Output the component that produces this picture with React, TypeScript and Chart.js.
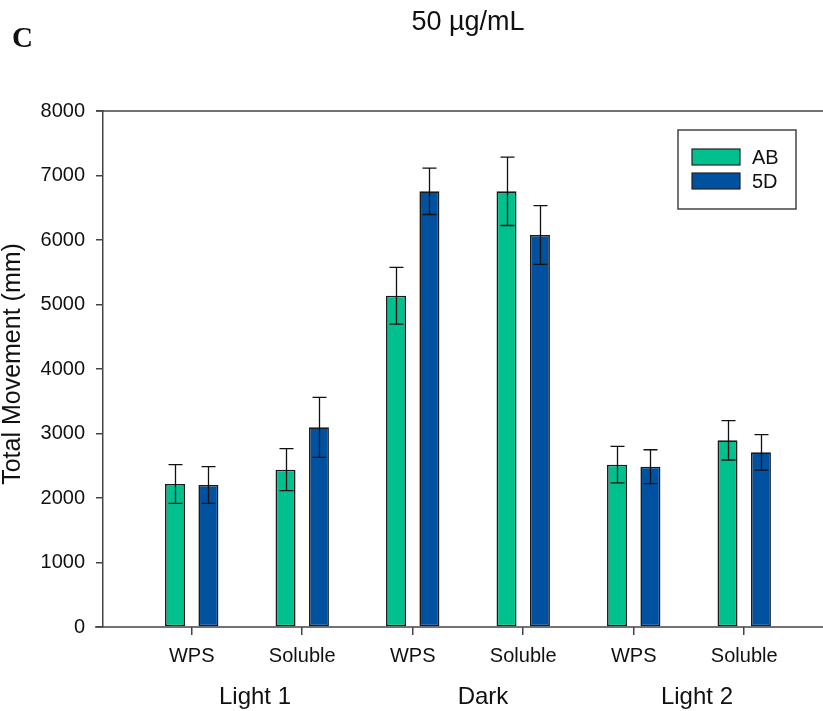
import React, { useEffect, useRef } from "react";
import { Chart, registerables } from "chart.js";

Chart.register(...registerables);

const categories = ["WPS", "Soluble", "WPS", "Soluble", "WPS", "Soluble"];
const groupLabels = ["Light 1", "Dark", "Light 2"];
const seriesNames = ["AB", "5D"];
const abMeans = [2217, 2439, 5137, 6755, 2516, 2894];
const abErr = [300, 325, 440, 530, 283, 305];
const fdMeans = [2202, 3096, 6755, 6078, 2486, 2708];
const fdErr = [285, 465, 360, 455, 262, 275];
const yTicks = [0, 1000, 2000, 3000, 4000, 5000, 6000, 7000, 8000];

const GREEN = "#00C18E";
const BLUE = "#0052A0";
const AXIS = "#444";
const SANS = "'Liberation Sans', Arial, sans-serif";

const errs = [abErr, fdErr];
const means = [abMeans, fdMeans];
const groupNudge = [8, 15, 8];

const overlayPlugin = {
  id: "overlay",
  afterDatasetsDraw(chart: any) {
    const ctx = chart.ctx;
    const y = chart.scales.y;
    const x = chart.scales.x;
    const area = chart.chartArea;
    ctx.save();
    // error bars
    ctx.strokeStyle = "#111";
    ctx.lineWidth = 1.3;
    for (let d = 0; d < 2; d++) {
      const meta = chart.getDatasetMeta(d);
      meta.data.forEach((el: any, i: number) => {
        const top = y.getPixelForValue(means[d][i] + errs[d][i]);
        const bot = y.getPixelForValue(means[d][i] - errs[d][i]);
        const cx = Math.round(el.x) + 0.5;
        ctx.beginPath();
        ctx.moveTo(cx, top);
        ctx.lineTo(cx, bot);
        ctx.moveTo(cx - 7, top);
        ctx.lineTo(cx + 7, top);
        ctx.moveTo(cx - 7, bot);
        ctx.lineTo(cx + 7, bot);
        ctx.stroke();
      });
    }
    // axis lines
    ctx.strokeStyle = AXIS;
    ctx.lineWidth = 1.5;
    ctx.beginPath();
    ctx.moveTo(area.left - 8, area.bottom);
    ctx.lineTo(area.right, area.bottom);
    ctx.moveTo(area.left - 7, area.top);
    ctx.lineTo(area.right, area.top);
    ctx.stroke();

    // group labels
    ctx.fillStyle = "#111";
    ctx.font = `24px ${SANS}`;
    ctx.textAlign = "center";
    ctx.textBaseline = "alphabetic";
    groupLabels.forEach((g, k) => {
      const px = (x.getPixelForValue(2 * k) + x.getPixelForValue(2 * k + 1)) / 2 + groupNudge[k];
      ctx.fillText(g, px, 704);
    });

    // title & panel letter
    ctx.font = `27px ${SANS}`;
    ctx.fillText("50 µg/mL", 468, 30);
    ctx.textAlign = "left";
    ctx.font = `bold 29px 'Liberation Serif', 'Times New Roman', serif`;
    ctx.fillText("C", 12, 47);

    // y title
    ctx.save();
    ctx.translate(13, 364);
    ctx.rotate(-Math.PI / 2);
    ctx.textAlign = "center";
    ctx.textBaseline = "middle";
    ctx.font = `25px ${SANS}`;
    ctx.fillText("Total Movement (mm)", 0, 0);
    ctx.restore();

    // legend
    ctx.strokeStyle = AXIS;
    ctx.lineWidth = 1.5;
    ctx.strokeRect(678, 130, 118, 79);
    const colors = [GREEN, BLUE];
    seriesNames.forEach((n, k) => {
      const ty = 149 + k * 24;
      ctx.fillStyle = colors[k];
      ctx.fillRect(692, ty, 48, 16);
      ctx.strokeStyle = "#222";
      ctx.lineWidth = 1.2;
      ctx.strokeRect(692, ty, 48, 16);
      ctx.fillStyle = "#111";
      ctx.font = `20px ${SANS}`;
      ctx.textAlign = "left";
      ctx.textBaseline = "middle";
      ctx.fillText(n, 752, ty + 9);
    });
    ctx.restore();
  },
};

export default function App() {
  const ref = useRef<HTMLCanvasElement>(null);
  useEffect(() => {
    if (!ref.current) return;
    const chart = new Chart(ref.current, {
      type: "bar",
      data: {
        datasets: [
          {
            label: seriesNames[0],
            data: abMeans.map((v, i) => ({ x: i, y: v })),
            backgroundColor: GREEN,
            borderColor: "#1a1a1a",
            borderWidth: 1.6,
            borderSkipped: false,
          },
          {
            label: seriesNames[1],
            data: fdMeans.map((v, i) => ({ x: i, y: v })),
            backgroundColor: BLUE,
            borderColor: "#1a1a1a",
            borderWidth: 1.6,
            borderSkipped: false,
          },
        ] as any,
      },
      options: {
        responsive: false,
        animation: false,
        layout: { padding: { top: 111, left: 0, right: 0, bottom: 0 } },
        datasets: {
          bar: { categoryPercentage: 0.6045, barPercentage: 0.599 },
        } as any,
        plugins: {
          legend: { display: false },
          title: { display: false },
          tooltip: { enabled: false },
        },
        scales: {
          x: {
            type: "linear",
            offset: false,
            min: -0.803,
            max: 5.713,
            afterBuildTicks: (s: any) => {
              s.ticks = categories.map((_, i) => ({ value: i }));
            },
            afterFit: (s: any) => {
              s.height = 84;
            },
            ticks: {
              callback: (v: any) => categories[v as number],
              font: { size: 20, family: SANS },
              color: "#111",
              padding: 9,
              maxRotation: 0,
              autoSkip: false,
            },
            grid: {
              offset: false,
              drawOnChartArea: false,
              tickLength: 8,
              color: AXIS,
              lineWidth: 1.5,
            },
            border: { display: false },
          },
          y: {
            min: 0,
            max: 8000,
            afterBuildTicks: (s: any) => {
              s.ticks = yTicks.map((v) => ({ value: v }));
            },
            afterFit: (s: any) => {
              s.width = 103;
            },
            ticks: {
              font: { size: 20, family: SANS },
              color: "#111",
              padding: 11,
              callback: (v: any) => String(v),
            },
            grid: {
              drawOnChartArea: false,
              tickLength: 7,
              color: AXIS,
              lineWidth: 1.5,
            },
            border: { display: true, color: AXIS, width: 1.5 },
          },
        },
      },
      plugins: [overlayPlugin],
    });
    return () => chart.destroy();
  }, []);
  return (
    <div style={{ position: "absolute", left: 0, top: 0, width: 823, height: 711, background: "#fff" }}>
      <canvas ref={ref} width={823} height={711} />
    </div>
  );
}
